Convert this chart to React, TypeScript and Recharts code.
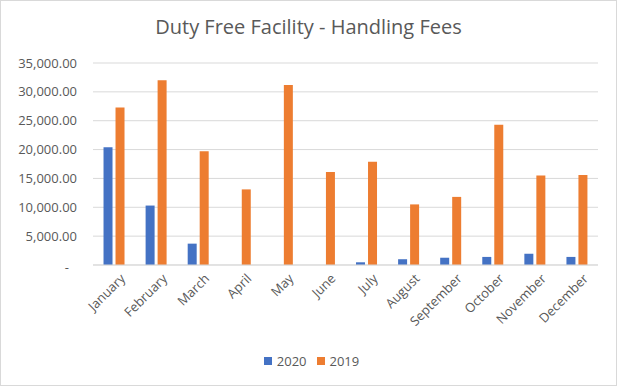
import React from "react";
import { BarChart, Bar, XAxis, YAxis, CartesianGrid, Legend } from "recharts";

const months = ["January", "February", "March", "April", "May", "June", "July", "August", "September", "October", "November", "December"];
const fees2020 = [20400, 10300, 3700, 0, 0, 0, 470, 1000, 1260, 1400, 1950, 1400];
const fees2019 = [27300, 32000, 19700, 13100, 31200, 16100, 17900, 10500, 11800, 24300, 15500, 15600];
const yTicks = [0, 5000, 10000, 15000, 20000, 25000, 30000, 35000];
const seriesNames = ["2020", "2019"];
const seriesColors = ["#4472C4", "#ED7D31"];

const data = months.map((m, i) => ({ month: m, y2020: fees2020[i], y2019: fees2019[i] }));

const FONT = "'Open Sans', sans-serif";
const TEXT = "#595959";

const fmt = (v: number) =>
  v.toLocaleString("en-US", { minimumFractionDigits: 2, maximumFractionDigits: 2 });

const YTick = (props: any) => {
  const { x, y, payload } = props;
  const v = payload.value as number;
  if (v === 0) {
    return (
      <text x={x - 8} y={y + 2} dy="0.355em" textAnchor="end" fontSize={13} fill={TEXT} fontFamily={FONT}>
        -
      </text>
    );
  }
  return (
    <text x={x} y={y} dy="0.355em" textAnchor="end" fontSize={13} fill={TEXT} fontFamily={FONT}>
      {fmt(v)}
    </text>
  );
};

const XTick = (props: any) => {
  const { x, y, payload } = props;
  return (
    <g transform={`translate(${x},${y})`}>
      <text x={4} y={13} textAnchor="end" fontSize={13} fill={TEXT} fontFamily={FONT} transform="rotate(-45)">
        {payload.value}
      </text>
    </g>
  );
};

const LegendContent = () => (
  <div style={{ display: "flex", justifyContent: "center", alignItems: "center", fontFamily: FONT, fontSize: 13, color: TEXT, lineHeight: "20px", paddingLeft: 6 }}>
    {seriesNames.map((n, i) => (
      <span key={n} style={{ display: "inline-flex", alignItems: "center", marginRight: i === 0 ? 10 : 0 }}>
        <span style={{ display: "inline-block", width: 8, height: 8, background: seriesColors[i], marginRight: 5 }} />
        {n}
      </span>
    ))}
  </div>
);

export default function App() {
  return (
    <div style={{ position: "absolute", left: 0, top: 0, width: 617, height: 386, background: "#fff" }}>
      <div
        style={{
          position: "absolute",
          left: 0,
          top: 14,
          width: 617,
          textAlign: "center",
          fontFamily: FONT,
          fontSize: 20,
          color: TEXT,
          lineHeight: "26px",
        }}
      >
        Duty Free Facility - Handling Fees
      </div>
      <BarChart
        width={617}
        height={386}
        data={data}
        margin={{ top: 63, right: 19, left: 0, bottom: 0 }}
        barCategoryGap="25%"
        barGap={3}
      >
        <CartesianGrid vertical={false} stroke="#d9d9d9" />
        <XAxis
          dataKey="month"
          interval={0}
          tickLine={false}
          axisLine={{ stroke: "#d9d9d9" }}
          height={101}
          tick={<XTick />}
        />
        <YAxis
          width={93}
          domain={[0, 35000]}
          ticks={yTicks}
          interval={0}
          tickLine={false}
          axisLine={false}
          tickMargin={10}
          tick={<YTick />}
        />
        <Legend
          verticalAlign="bottom"
          align="center"
          wrapperStyle={{ bottom: 15, height: 20, left: 0, width: 617 }}
          content={<LegendContent />}
        />
        <Bar dataKey="y2020" name={seriesNames[0]} fill={seriesColors[0]} isAnimationActive={false} />
        <Bar dataKey="y2019" name={seriesNames[1]} fill={seriesColors[1]} isAnimationActive={false} />
      </BarChart>
      <div
        style={{
          position: "absolute",
          left: 0,
          top: 0,
          width: 617,
          height: 386,
          boxSizing: "border-box",
          border: "1px solid #d9d9d9",
          pointerEvents: "none",
        }}
      />
    </div>
  );
}
